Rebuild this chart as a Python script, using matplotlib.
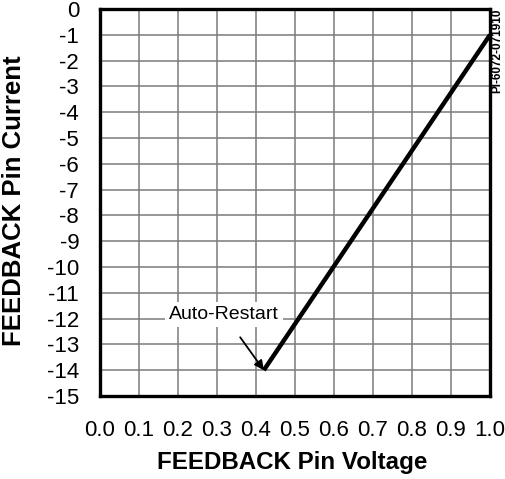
import matplotlib
matplotlib.use("Agg")
import matplotlib.pyplot as plt
import numpy as np

plt.rcParams['font.family'] = ['Liberation Sans', 'DejaVu Sans']

# FEEDBACK pin characteristic
voltage = [0.42, 1.0]
current = [-14, -1]

x_ticks = np.round(np.arange(0, 1.01, 0.1), 1)
x_tick_labels = [f"{v:.1f}" for v in x_ticks]
y_ticks = list(range(0, -16, -1))
y_tick_labels = [str(v) for v in y_ticks]

restart_point = (0.42, -14)
restart_label = "Auto-Restart"

W, H = 506, 479
fig = plt.figure(figsize=(W / 100, H / 100), dpi=100)
ax = fig.add_axes([100 / W, 1 - 396 / H, 390 / W, 387 / H])

ax.plot(voltage, current, color='black', lw=3.2, solid_capstyle='butt', zorder=3)

ax.set_xlim(0, 1.0)
ax.set_ylim(-15, 0)
ax.set_xticks(x_ticks)
ax.set_xticklabels(x_tick_labels)
ax.set_yticks(y_ticks)
ax.set_yticklabels(y_tick_labels)
ax.tick_params(axis='both', length=0, labelsize=16)
ax.tick_params(axis='x', pad=17)
ax.tick_params(axis='y', pad=15)
ax.grid(True, color='#7a7a7a', lw=1.1)
ax.set_axisbelow(True)
for s in ax.spines.values():
    s.set_linewidth(2.4)
    s.set_color('black')

ax.annotate(restart_label, xy=restart_point, xytext=(0.318, -11.85),
            ha='center', va='center', fontsize=14,
            bbox=dict(boxstyle='square,pad=0.2', fc='white', ec='none'),
            arrowprops=dict(arrowstyle='-|>', color='black', lw=1.3,
                            mutation_scale=14, shrinkA=9, shrinkB=0),
            zorder=4)

# axis titles
fig.text(292 / W, 1 - 469 / H, "FEEDBACK Pin Voltage", ha='center', va='baseline',
         fontsize=17.4, fontweight='bold')
fig.text(21 / W, 1 - 201 / H, "FEEDBACK Pin Current", rotation=90, ha='center',
         va='baseline', fontsize=18.5, fontweight='bold', rotation_mode='anchor')

fig.text(497 / W, 1 - 51 / H, "PI-6072-071910", rotation=90, ha='center', va='center',
         fontsize=8.5, fontweight='bold')

fig.savefig("out.png", dpi=100)
